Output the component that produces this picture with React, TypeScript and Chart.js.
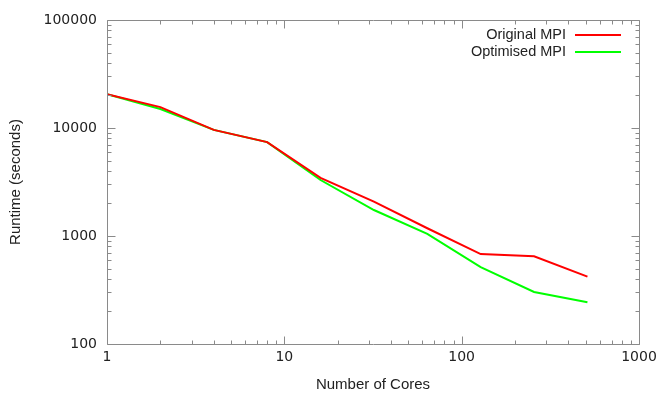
import React, { useEffect, useRef } from "react";
import { Chart, registerables } from "chart.js";

Chart.register(...registerables);

const cores = [1, 2, 4, 8, 16, 32, 64, 128, 256, 512];
const originalMPI = [20600, 15600, 9600, 7400, 3450, 2080, 1180, 680, 650, 420];
const optimisedMPI = [20600, 15000, 9600, 7400, 3300, 1740, 1045, 515, 303, 243];
const xMajorTicks = [1, 10, 100, 1000];
const yMajorTicks = [100, 1000, 10000, 100000];
const seriesNames = ["Original MPI", "Optimised MPI"];
const seriesColors = ["#ff0000", "#00ff00"];
const xTitle = "Number of Cores";
const yTitle = "Runtime (seconds)";

const TICK_FONT = "DejaVu Sans";
const TEXT_FONT = "Liberation Sans";
const AXIS_GRAY = "#8a8a8a";

function minorsFor(majors: number[]) {
  const out: number[] = [];
  for (let i = 0; i < majors.length - 1; i++) {
    for (let k = 2; k <= 9; k++) out.push(majors[i] * k);
  }
  return out;
}

const framePlugin = {
  id: "frame",
  afterDatasetsDraw(chart: any) {
    const ctx = chart.ctx;
    const { left, right, top, bottom } = chart.chartArea;
    const xs = chart.scales.x;
    const ys = chart.scales.y;
    ctx.save();
    ctx.strokeStyle = AXIS_GRAY;
    ctx.lineWidth = 1;
    const L = Math.round(left) + 0.5;
    const R = Math.round(right) + 0.5;
    const T = Math.round(top) + 0.5;
    const B = Math.round(bottom) + 0.5;
    ctx.beginPath();
    ctx.rect(L, T, R - L, B - T);
    ctx.stroke();
    const tick = (vals: number[], len: number) => {
      ctx.beginPath();
      for (const v of vals) {
        const px = Math.round(xs.getPixelForValue(v)) + 0.5;
        ctx.moveTo(px, B);
        ctx.lineTo(px, B - len);
        ctx.moveTo(px, T);
        ctx.lineTo(px, T + len);
      }
      ctx.stroke();
    };
    const tickY = (vals: number[], len: number) => {
      ctx.beginPath();
      for (const v of vals) {
        const py = Math.round(ys.getPixelForValue(v)) + 0.5;
        ctx.moveTo(L, py);
        ctx.lineTo(L + len, py);
        ctx.moveTo(R, py);
        ctx.lineTo(R - len, py);
      }
      ctx.stroke();
    };
    tick(xMajorTicks, 8);
    tick(minorsFor(xMajorTicks), 4);
    tickY(yMajorTicks, 8);
    tickY(minorsFor(yMajorTicks), 4);

    // axis titles
    ctx.fillStyle = "#222";
    ctx.font = `15px '${TEXT_FONT}'`;
    ctx.textAlign = "center";
    ctx.textBaseline = "middle";
    ctx.fillText(xTitle, (left + right) / 2, 385);
    ctx.save();
    ctx.translate(16, (top + bottom) / 2);
    ctx.rotate(-Math.PI / 2);
    ctx.fillText(yTitle, 0, 0);
    ctx.restore();

    // legend
    ctx.font = `14.5px '${TEXT_FONT}'`;
    ctx.textAlign = "right";
    const legendY = [35, 52];
    seriesNames.forEach((name, i) => {
      ctx.fillStyle = "#222";
      ctx.fillText(name, 566, legendY[i]);
      ctx.strokeStyle = seriesColors[i];
      ctx.lineWidth = 2;
      ctx.beginPath();
      ctx.moveTo(575, legendY[i]);
      ctx.lineTo(621, legendY[i]);
      ctx.stroke();
    });
    ctx.restore();
  },
};

export default function App() {
  const ref = useRef<HTMLCanvasElement | null>(null);
  useEffect(() => {
    document.body.style.margin = "0";
    const canvas = ref.current!;
    const chart = new Chart(canvas, {
      type: "line",
      data: {
        datasets: [
          {
            label: seriesNames[0],
            data: cores.map((c, i) => ({ x: c, y: originalMPI[i] })),
            borderColor: seriesColors[0],
            borderWidth: 2,
            pointRadius: 0,
            tension: 0,
          },
          {
            label: seriesNames[1],
            data: cores.map((c, i) => ({ x: c, y: optimisedMPI[i] })),
            borderColor: seriesColors[1],
            borderWidth: 2,
            pointRadius: 0,
            tension: 0,
          },
        ],
      },
      options: {
        animation: false,
        responsive: false,
        devicePixelRatio: 1,
        layout: { padding: { top: 20, right: 27, left: 0, bottom: 0 } },
        plugins: { legend: { display: false }, tooltip: { enabled: false } },
        scales: {
          x: {
            type: "logarithmic",
            min: 1,
            max: 1000,
            grid: { display: false, drawTicks: false },
            border: { display: false },
            afterBuildTicks: (s: any) => {
              s.ticks = xMajorTicks.map((v) => ({ value: v }));
            },
            afterFit: (s: any) => {
              s.height = 55;
            },
            ticks: {
              autoSkip: false,
              maxRotation: 0,
              padding: 5,
              color: "#222",
              font: { family: TICK_FONT, size: 14 },
              callback: (v: any) => String(v),
            },
          },
          y: {
            type: "logarithmic",
            min: 100,
            max: 100000,
            grid: { display: false, drawTicks: false },
            border: { display: false },
            afterBuildTicks: (s: any) => {
              s.ticks = yMajorTicks.map((v) => ({ value: v }));
            },
            afterFit: (s: any) => {
              s.width = 107;
            },
            ticks: {
              autoSkip: false,
              padding: 10,
              color: "#222",
              font: { family: TICK_FONT, size: 14 },
              callback: (v: any) => String(v),
            },
          },
        },
      } as any,
      plugins: [framePlugin],
    });
    return () => chart.destroy();
  }, []);
  return (
    <div style={{ position: "fixed", left: 0, top: 0, width: 666, height: 399 }}>
      <canvas ref={ref} width={666} height={399} style={{ width: 666, height: 399, display: "block" }} />
    </div>
  );
}
